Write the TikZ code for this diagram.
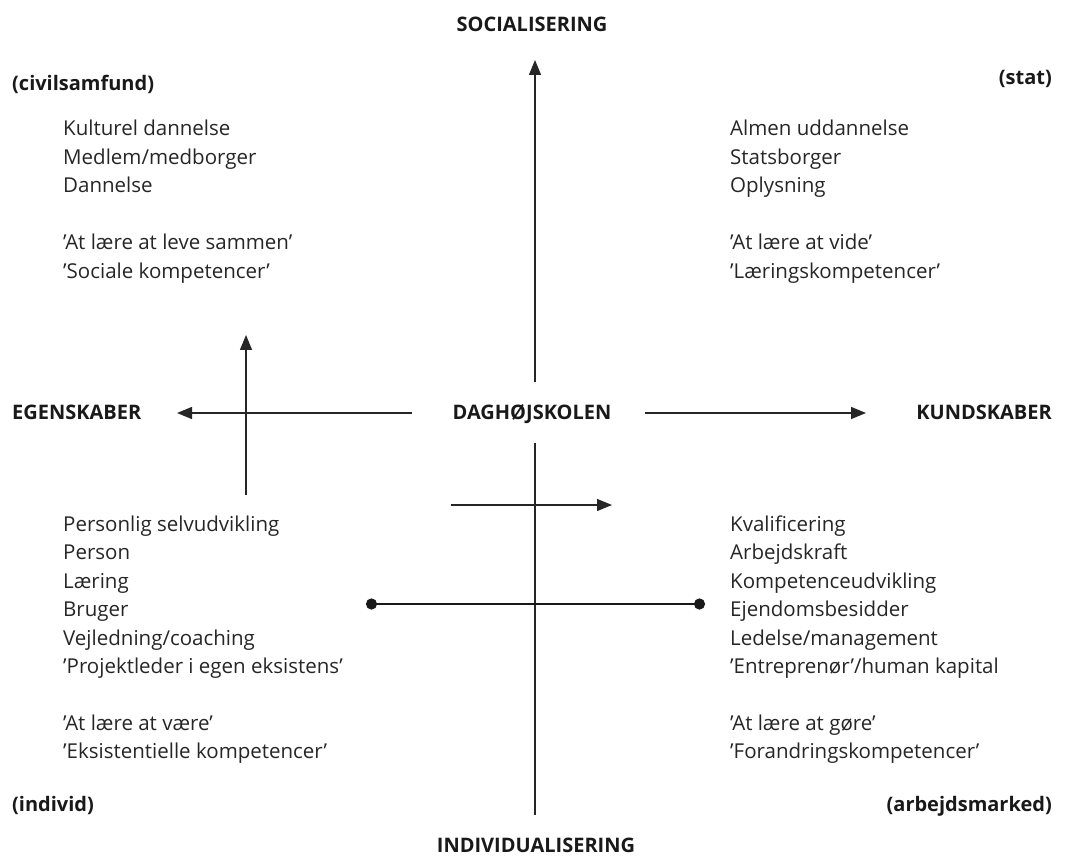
\documentclass[tikz,border=0pt]{standalone}
\usepackage{fontspec}
\setmainfont{Open Sans}
\usetikzlibrary{arrows.meta}
\usetikzlibrary{positioning}

\tikzset{
  txt/.style={font=\fontsize{20.5}{28.5}\selectfont, inner sep=0pt, text=black!85},
  head/.style={font=\fontsize{20}{28.5}\selectfont\bfseries, inner sep=0pt, text=black!90},
  arr/.style={-{Triangle[length=15pt,width=12pt]}, line width=1.3pt, black!85},
  dotted line/.style={{Circle[length=11pt]}-{Circle[length=11pt]}, line width=2.6pt, black!90}
}

\begin{document}
\begin{tikzpicture}[x=1pt,y=-1pt]
\useasboundingbox (0,0) rectangle (1065,866);

% axis labels
\node[head, anchor=base] (soc) at (532,32) {SOCIALISERING};
\node[head, anchor=base] (ind) at (536,852) {INDIVIDUALISERING};
\node[head, anchor=base west] (egen) at (12,419) {EGENSKABER};
\node[head, anchor=base east] (kund) at (1052,419) {KUNDSKABER};
\node[head, anchor=base] (dag) at (532,419) {DAGHØJSKOLEN};

% corners
\node[head, anchor=base west] (civil) at (12,91) {(civilsamfund)};
\node[head, anchor=base east] (stat) at (1052,85) {(stat)};
\node[head, anchor=base west] (individ) at (12,811) {(individ)};
\node[head, anchor=base east] (arbejd) at (1052,811) {(arbejdsmarked)};

% upper left
\foreach \t [count=\i] in {Kulturel dannelse, Medlem/medborger, Dannelse}
  \node[txt, anchor=base west] (ul\i) at (63,{136+28.5*(\i-1)}) {\t};
\foreach \t [count=\i] in {’At lære at leve sammen’, ’Sociale kompetencer’}
  \node[txt, anchor=base west] (ulq\i) at (63,{250+28.5*(\i-1)}) {\t};

% upper right
\foreach \t [count=\i] in {Almen uddannelse, Statsborger, Oplysning}
  \node[txt, anchor=base west] (ur\i) at (730,{136+28.5*(\i-1)}) {\t};
\foreach \t [count=\i] in {’At lære at vide’, ’Læringskompetencer’}
  \node[txt, anchor=base west] (urq\i) at (730,{250+28.5*(\i-1)}) {\t};

% lower left
\foreach \t [count=\i] in {Personlig selvudvikling, Person, Læring, Bruger,
    Vejledning/coaching, ’Projektleder i egen eksistens’}
  \node[txt, anchor=base west] (ll\i) at (63,{531+28.5*(\i-1)}) {\t};
\foreach \t [count=\i] in {’At lære at være’, ’Eksistentielle kompetencer’}
  \node[txt, anchor=base west] (llq\i) at (63,{730+28.5*(\i-1)}) {\t};

% lower right
\foreach \t [count=\i] in {Kvalificering, Arbejdskraft, Kompetenceudvikling,
    Ejendomsbesidder, Ledelse/management, ’Entreprenør’/human kapital}
  \node[txt, anchor=base west] (lr\i) at (730,{531+28.5*(\i-1)}) {\t};
\foreach \t [count=\i] in {’At lære at gøre’, ’Forandringskompetencer’}
  \node[txt, anchor=base west] (lrq\i) at (730,{730+28.5*(\i-1)}) {\t};

% arrow ends
\coordinate (up0) at (535,382);
\coordinate (up1) at (535,60);
\coordinate (dn0) at (535,443);
\coordinate (dn1) at (535,815);
\coordinate (le0) at (412,413);
\coordinate (le1) at (177,413);
\coordinate (ri0) at (645,413);
\coordinate (ri1) at (866,413);
\coordinate (sv0) at (246,495);
\coordinate (sv1) at (246,335);
\coordinate (sh0) at (451,505);
\coordinate (sh1) at (612,505);
\coordinate (dl0) at (366,604);
\coordinate (dl1) at (705,604);

\draw[arr] (up0) -- (up1);
\draw[line width=1.3pt, black!85] (dn0) -- (dn1);
\draw[arr] (le0) -- (le1);
\draw[arr] (ri0) -- (ri1);
\draw[arr] (sv0) -- (sv1);
\draw[arr] (sh0) -- (sh1);
\draw[dotted line] (dl0) -- (dl1);
\end{tikzpicture}
\end{document}
